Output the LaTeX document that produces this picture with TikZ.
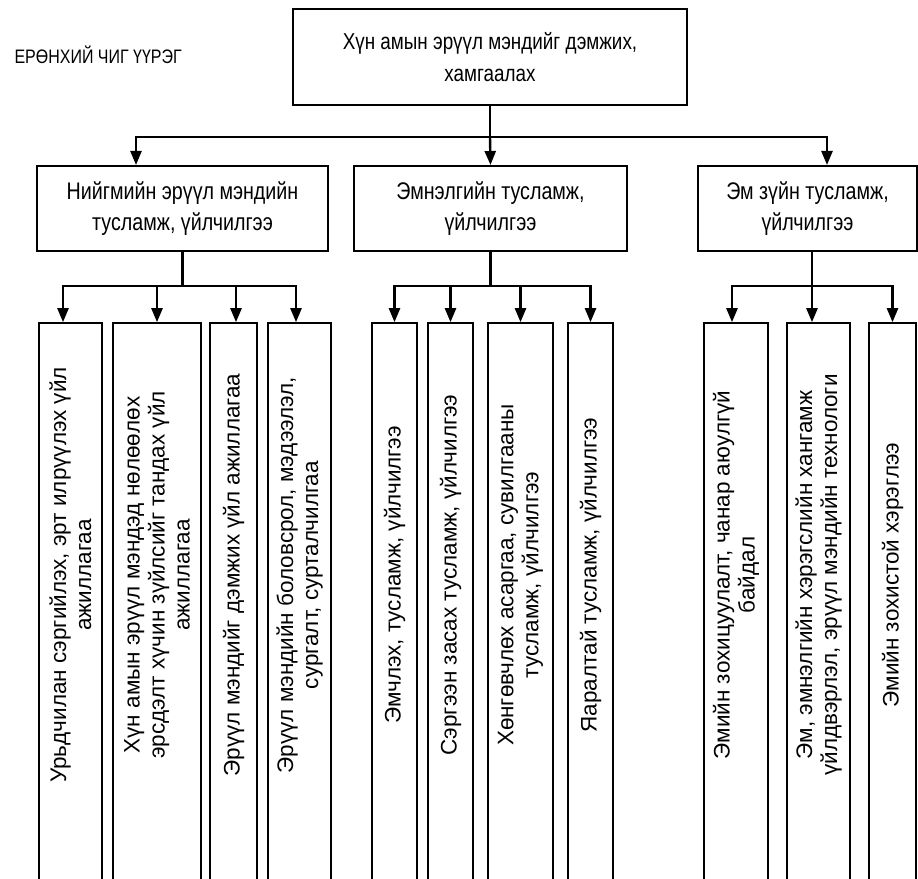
\documentclass[tikz,border=0pt]{standalone}
\usepackage{fontspec}
\setmainfont{Liberation Sans}
\newfontfamily\narrowfont{Liberation Sans}[FakeStretch=0.82]
\usetikzlibrary{arrows.meta,positioning,calc}

\begin{document}
\begin{tikzpicture}[
    x=1pt, y=1pt,
    box/.style={rectangle, draw=black, line width=2pt, align=center, inner sep=0pt, font=\narrowfont\fontsize{24}{31}\selectfont},
    leaf/.style={rectangle, draw=black, line width=1.6pt, inner sep=0pt, minimum height=560pt},
    leaftext/.style={rotate=90, align=center, font=\fontsize{22.5}{25}\selectfont},
    link/.style={line width=2.4pt},
    arrow/.style={link, -{Triangle[length=14pt, width=11pt]}}
]
    \useasboundingbox (0,0) rectangle (918,878);

    % Title
    \node[anchor=west, font=\narrowfont\fontsize{19.5}{22}\selectfont] (title) at (11,823) {ЕРӨНХИЙ ЧИГ ҮҮРЭГ};

    % Top level
    \node[box, font=\narrowfont\fontsize{23}{32}\selectfont, minimum width=394pt, minimum height=96pt] (top) at (490,821) {Хүн амын эрүүл мэндийг дэмжих,\\хамгаалах};

    % Second level
    \node[box, minimum width=291pt, minimum height=85pt] (soc) at (182.5,669.5) {Нийгмийн эрүүл мэндийн\\тусламж, үйлчилгээ};
    \node[box, minimum width=273pt, minimum height=85pt] (med) at (490.5,669.5) {Эмнэлгийн тусламж,\\үйлчилгээ};
    \node[box, minimum width=219pt, minimum height=85pt] (pha) at (807.5,669.5) {Эм зүйн тусламж,\\үйлчилгээ};

    % Leaves under soc
    \node[leaf, minimum width=63pt] (l1) at (70.5,275) {};
    \node[leaf, minimum width=88pt] (l2) at (157,275) {};
    \node[leaf, minimum width=47pt] (l3) at (233.5,275) {};
    \node[leaf, minimum width=63pt] (l4) at (299.5,275) {};
    \node[leaftext] (l1t) at (l1 |- 0,303) {Урьдчилан сэргийлэх, эрт илрүүлэх үйл\\ажиллагаа};
    \node[leaftext] (l2t) at (l2 |- 0,303) {Хүн амын эрүүл мэндэд нөлөөлөх\\эрсдэлт хүчин зүйлсийг тандах үйл\\ажиллагаа};
    \node[leaftext] (l3t) at (l3 |- 0,303) {Эрүүл мэндийг дэмжих үйл ажиллагаа};
    \node[leaftext] (l4t) at (l4 |- 0,303) {Эрүүл мэндийн боловсрол, мэдээлэл,\\сургалт, сурталчилгаа};

    % Leaves under med
    \node[leaf, minimum width=45pt] (m1) at (394.5,275) {};
    \node[leaf, minimum width=45pt] (m2) at (450.5,275) {};
    \node[leaf, minimum width=65pt] (m3) at (520.5,275) {};
    \node[leaf, minimum width=45pt] (m4) at (590.5,275) {};
    \node[leaftext] (m1t) at (m1 |- 0,303) {Эмчлэх, тусламж, үйлчилгээ};
    \node[leaftext] (m2t) at (m2 |- 0,303) {Сэргээн засах тусламж, үйлчилгээ};
    \node[leaftext] (m3t) at (m3 |- 0,303) {Хөнгөвчлөх асаргаа, сувилгааны\\тусламж, үйлчилгээ};
    \node[leaftext] (m4t) at (m4 |- 0,303) {Яаралтай тусламж, үйлчилгээ};

    % Leaves under pha
    \node[leaf, minimum width=64pt] (r1) at (736,275) {};
    \node[leaf, minimum width=63pt] (r2) at (818.5,275) {};
    \node[leaf, minimum width=47pt] (r3) at (892.5,275) {};
    \node[leaftext] (r1t) at (r1 |- 0,303) {Эмийн зохицуулалт, чанар аюулгүй\\байдал};
    \node[leaftext] (r2t) at (r2 |- 0,303) {Эм, эмнэлгийн хэрэгслийн хангамж\\үйлдвэрлэл, эрүүл мэндийн технологи};
    \node[leaftext] (r3t) at (r3 |- 0,303) {Эмийн зохистой хэрэглээ};

    % Top to second level
    \draw[link] (top.south) -- ++(0,-31) coordinate (b1);
    \draw[arrow] (b1) -- (med.north);
    \draw[arrow] (b1) -| ([xshift=-46.5pt]soc.north);
    \draw[arrow] (b1) -| ([xshift=19.5pt]pha.north);

    % Second level to leaves
    \draw[link] (soc.south) -- ++(0,-34) coordinate (b2);
    \draw[arrow] (b2) -| ([xshift=-7.5pt]l1.north);
    \draw[arrow] (b2) -| (l2.north);
    \draw[arrow] (b2) -| ([xshift=2.5pt]l3.north);
    \draw[arrow] (b2) -| ([xshift=-3.5pt]l4.north);

    \draw[link] (med.south) -- ++(0,-34) coordinate (b3);
    \draw[arrow] (b3) -| (m1.north);
    \draw[arrow] (b3) -| (m2.north);
    \draw[arrow] (b3) -| (m3.north);
    \draw[arrow] (b3) -| (m4.north);

    \draw[link] ([xshift=4.5pt]pha.south) -- ++(0,-34) coordinate (b4);
    \draw[arrow] (b4) -| ([xshift=-4pt]r1.north);
    \draw[arrow] (b4) -| ([xshift=-6.5pt]r2.north);
    \draw[arrow] (b4) -| (r3.north);
\end{tikzpicture}
\end{document}
